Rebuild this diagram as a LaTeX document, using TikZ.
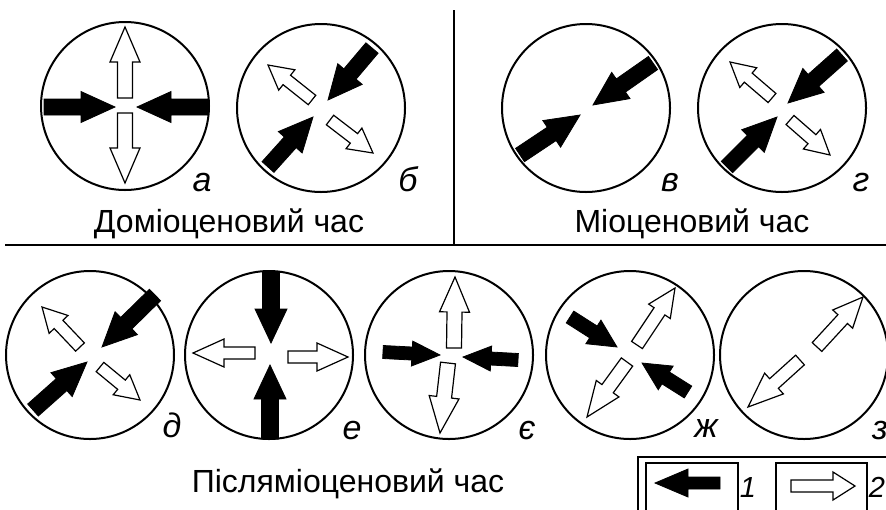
\documentclass[tikz,border=0pt]{standalone}
\usepackage{fontspec}
\setmainfont{Liberation Sans}
\newcommand\farr[8]{%
  \pgfmathsetmacro\fAng{atan2(#3-#5,#4-#2)}%
  \pgfmathsetmacro\fLen{veclen(#4-#2,#5-#3)}%
  \pgfmathsetmacro\fHb{\fLen-#8}%
  \draw[#1,shift={(#2,#3)},rotate=\fAng] (0,-#6) -- (\fHb,-#6) -- (\fHb,-#7) -- (\fLen,0) -- (\fHb,#7) -- (\fHb,#6) -- (0,#6) -- cycle;}
\tikzset{
  circ/.style={circle,draw,line width=1pt,minimum size=84pt,inner sep=0pt},
  blk/.style={fill=black,draw=black,line width=0.4pt,line join=miter},
  wht/.style={fill=white,draw=black,line width=0.6pt,line join=miter},
  lab/.style={font=\fontsize{17}{20}\selectfont\itshape,anchor=base,inner sep=0pt},
  ttl/.style={font=\fontsize{16}{19}\selectfont,anchor=base,inner sep=0pt},
  num/.style={font=\fontsize{14.5}{17}\selectfont\itshape,anchor=base,inner sep=0pt},
}
\begin{document}
\begin{tikzpicture}[x=0.5pt,y=-0.5pt]
\useasboundingbox (0,0) rectangle (886,509);
% dividers
\coordinate (vt) at (454,10);
\coordinate (vb) at (454,245);
\coordinate (hl) at (5,245);
\coordinate (hr) at (886,245);
\draw[line width=0.8pt] (vt) -- (vb);
\draw[line width=1pt] (hl) -- (hr);
% circles
\node[circ] (ca) at (125,106) {};
\node[circ] (cb) at (321,108) {};
\node[circ] (cv) at (586,108) {};
\node[circ] (cg) at (782,108) {};
\node[circ] (cd) at (90,355) {};
\node[circ] (ce) at (269,355) {};
\node[circ] (cje) at (449,355) {};
\node[circ] (czh) at (630,355) {};
\node[circ] (cz) at (804,355) {};
% a
\farr{blk}{44}{107}{115}{107}{8}{15.5}{34}
\farr{blk}{208}{107}{137}{107}{8}{15.5}{34}
\farr{wht}{125}{98}{125}{27}{7.5}{15}{35}
\farr{wht}{125}{113}{125}{183}{7.5}{15}{35}
% b
\farr{blk}{372}{48}{328}{100}{8}{16}{34}
\farr{blk}{268}{167}{313}{117}{8}{16}{34}
\farr{wht}{312}{100}{268}{65}{6}{13}{24}
\farr{wht}{330}{120}{373}{153}{6}{13}{24}
% v
\farr{blk}{653}{63}{593}{105}{8}{16}{34}
\farr{blk}{520}{155}{580}{115}{8}{16}{34}
% g
\farr{blk}{842}{55}{788}{103}{8}{16}{34}
\farr{blk}{727}{167}{777}{117}{8}{16}{34}
\farr{wht}{772}{98}{730}{62}{6}{13}{24}
\farr{wht}{790}{120}{830}{155}{6}{13}{24}
% d
\farr{blk}{155}{295}{102}{347}{8}{16}{34}
\farr{blk}{33}{410}{87}{362}{8}{16}{34}
\farr{wht}{80}{347}{42}{307}{6}{13}{24}
\farr{wht}{100}{367}{140}{400}{6}{13}{24}
% e
\farr{blk}{271}{272}{271}{343}{8.5}{16}{34}
\farr{blk}{270}{439}{270}{365}{8.5}{16}{34}
\farr{wht}{255}{353}{193}{353}{6}{14}{31}
\farr{wht}{288}{357}{348}{357}{6}{14}{31}
% je
\farr{blk}{383}{352}{440}{355}{6.5}{12.5}{28}
\farr{blk}{518}{360}{463}{357}{6.5}{12.5}{28}
\farr{wht}{454}{348}{455}{277}{7.5}{15}{35}
\farr{wht}{448}{363}{440}{433}{7.5}{15}{36}
% zh
\farr{blk}{570}{317}{617}{347}{7}{14}{28}
\farr{blk}{688}{392}{642}{363}{7}{14}{28}
\farr{wht}{637}{345}{675}{288}{6.5}{13}{28}
\farr{wht}{627}{362}{587}{417}{7}{14}{35}
% z
\farr{wht}{817}{347}{863}{297}{6.5}{13.5}{30}
\farr{wht}{800}{360}{748}{407}{6.5}{14}{35}
% letters
\node[lab] (la) at (202,191) {а};
\node[lab] (lb) at (408,191) {б};
\node[lab] (lv) at (670,191) {в};
\node[lab] (lg) at (861,191) {г};
\node[lab] (ld) at (172,437) {д};
\node[lab] (le) at (352,439) {е};
\node[lab] (lje) at (527,439) {є};
\node[lab] (lzh) at (706,437) {ж};
\node[lab] (lz) at (880,439) {з};
% titles
\node[ttl] (t1) at (229,232) {Доміоценовий час};
\node[ttl] (t2) at (692,232) {Міоценовий час};
\node[ttl] (t3) at (348,492) {Післяміоценовий час};
% legend
\draw[line width=1pt] (638,512) |- (889,457);
\draw[line width=0.7pt] (646,512) |- (738,463) -- (738,512);
\draw[line width=0.7pt] (776,512) |- (867,463) -- (867,512);
\farr{blk}{720}{483}{655}{483}{6}{14}{33}
\farr{wht}{791}{486}{855}{486}{6}{14}{22}
\node[num] (n1) at (748,497) {1};
\node[num] (n2) at (877,497) {2};
\end{tikzpicture}
\end{document}
